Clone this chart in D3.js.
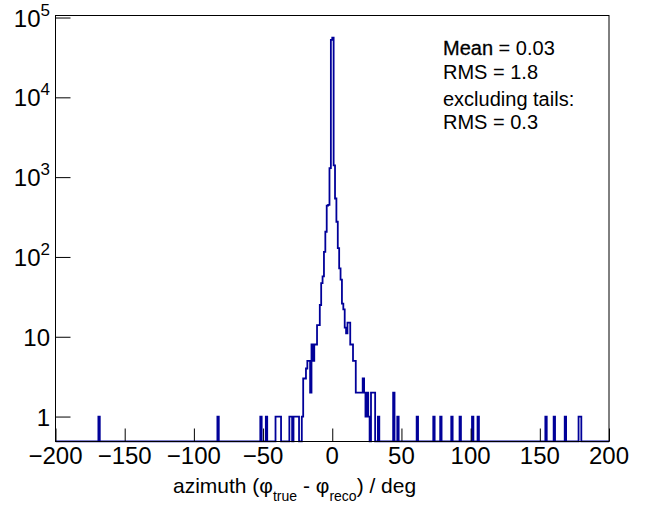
<!DOCTYPE html>
<html><head><meta charset="utf-8">
<script src="https://cdn.jsdelivr.net/npm/d3@7"></script>
<style>
body{margin:0;background:#fff}
text{font-family:"Liberation Sans",Arial,Helvetica,sans-serif;fill:#000}
</style>
</head><body>
<svg id="c" width="663" height="506"></svg>
<script>
// histogram: lower edge of each non-empty 1-degree bin and its count
const binLow = [-169,-83,-52,-48,-41,-40,-39,-38,-31,-30,-28,-27,-26,-25,-22,
  -21,-20,-19,-18,-17,-16,-15,-14,-13,-12,-11,-10,-9,-8,-7,-6,-5,-4,-3,-2,-1,
  0,1,2,3,4,5,6,7,8,9,10,11,12,13,14,15,16,17,18,19,20,21,22,23,24,25,26,28,29,30,
  33,44,47,61,73,78,86,92,101,105,154,160,168,178,179];
const binCount = [1,1,1,1,1,1,1,1,1,1,1,1,1,1,1,
  3,3,4,5,5,2,8,5,8,8,14,14,25,47,57,116,207,440,450,1300,52600,
  55900,1400,540,276,129,72,52,26,22,13,11,15,15,8,8,5,5,2,2,2,2,2,3,2,1,2,1,2,2,2,
  1,2,1,1,1,1,1,1,1,1,1,1,1,1,1];
const xTickValues = [-200,-150,-100,-50,0,50,100,150,200];
const xTickLabels = ["\u2212200","\u2212150","\u2212100","\u221250","0","50","100","150","200"];
const yTickValues = [1,10,100,1000,10000,100000];
const yTickBase = ["1","10","10","10","10","10"];
const yTickExp = ["","","2","3","4","5"];
const statLines = ["Mean = 0.03","RMS = 1.8","excluding tails:","RMS = 0.3"];

const svg = d3.select("#c");
const L = 55.5, R = 609, T = 15.5, B = 441.5;
const x = d3.scaleLinear().domain([-200, 200]).range([L, R]);
const y = d3.scaleLog().domain([0.487, 1.06e5]).range([B, T]);

// histogram outline
const counts = new Map(binLow.map((b, i) => [b, binCount[i]]));
const pts = [[x(-200), B]];
for (let lo = -200; lo < 200; lo++) {
  const c = counts.get(lo) || 0;
  const yy = c > 0 ? y(c) : B;
  pts.push([x(lo), yy], [x(lo + 1), yy]);
}
pts.push([x(200), B]);
svg.append("clipPath").attr("id","clip").append("rect")
  .attr("x", L).attr("y", T).attr("width", R - L).attr("height", B - T + 1);
svg.append("path").attr("d", d3.line()(pts)).attr("clip-path","url(#clip)")
  .attr("fill","none").attr("stroke","#000099").attr("stroke-width",1.8)
  .attr("stroke-linejoin","miter");

// frame
svg.append("rect").attr("x", L).attr("y", T).attr("width", R - L).attr("height", B - T)
  .attr("fill","none").attr("stroke","#000").attr("stroke-width",1);

// x ticks
const xMinor = d3.range(-200, 201, 10);
const gx = svg.append("g").attr("transform", `translate(0,${B})`);
gx.call(d3.axisBottom(x).tickValues(xMinor).tickSize(-7).tickFormat(""));
gx.call(d3.axisBottom(x).tickValues(xTickValues).tickSize(-13).tickFormat(""));
gx.selectAll(".domain").remove();
gx.selectAll("line").attr("stroke","#000");
svg.selectAll(".xl").data(xTickValues).join("text").attr("class","xl")
  .attr("x", d => x(d)).attr("y", 464).attr("text-anchor","middle")
  .attr("font-size", 24).text((d, i) => xTickLabels[i]);

// y ticks (log)
const yMinor = [];
[0.1,1,10,100,1000,10000].forEach(dec => { for (let k = 2; k <= 9; k++) { const v = dec * k; if (v >= 0.487 && v <= 1.06e5) yMinor.push(v); } });
const gy = svg.append("g").attr("transform", `translate(${L},0)`);
gy.call(d3.axisLeft(y).tickValues(yMinor).tickSize(-8).tickFormat(""));
gy.call(d3.axisLeft(y).tickValues(yTickValues).tickSize(-15).tickFormat(""));
gy.selectAll(".domain").remove();
gy.selectAll("line").attr("stroke","#000");
const yl = svg.selectAll(".yl").data(yTickValues).join("text").attr("class","yl")
  .attr("x", 50).attr("y", d => y(d) + 9).attr("text-anchor","end").attr("font-size", 24);
yl.each(function(d, i) {
  const t = d3.select(this);
  t.append("tspan").text(yTickBase[i]);
  if (yTickExp[i]) t.append("tspan").attr("font-size", 17).attr("dy", -11).text(yTickExp[i]);
});

// axis title
const title = svg.append("text").attr("x", 173).attr("y", 493).attr("text-anchor","start").attr("font-size", 21);
title.append("tspan").text("azimuth (\u03c6");
title.append("tspan").attr("font-size", 14).attr("dy", 8).text("true");
title.append("tspan").attr("dy", -8).text(" - \u03c6");
title.append("tspan").attr("font-size", 14).attr("dy", 8).text("reco");
title.append("tspan").attr("dy", -8).text(") / deg");

// stats text
const statY = [55, 79, 106, 129];
const st = svg.selectAll(".st").data(statLines).join("text").attr("class","st")
  .attr("x", 443).attr("y", (d, i) => statY[i]).attr("font-size", 20);
st.each(function(d, i) {
  const t = d3.select(this);
  if (i === 0) {
    t.append("tspan").attr("stroke","#000").attr("stroke-width",0.3).text("Mean");
    t.append("tspan").text(d.slice(4));
  } else t.text(d);
});
</script>
</body></html>
